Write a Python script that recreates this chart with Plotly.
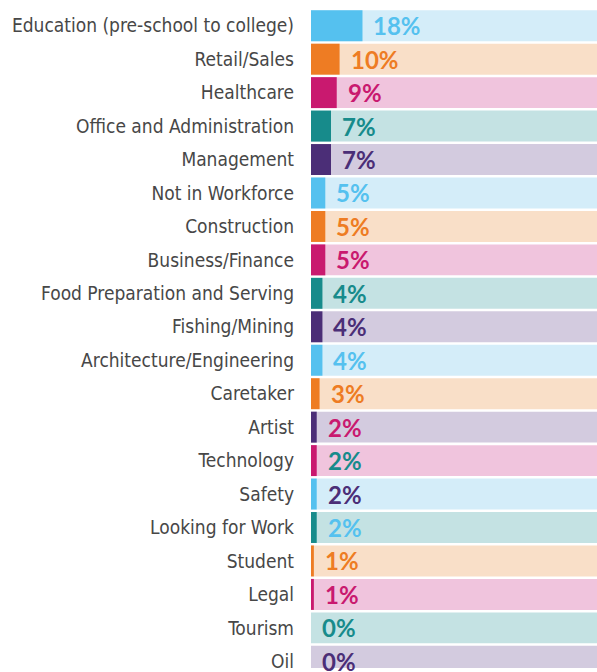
import plotly.graph_objects as go

categories = [
    "Education (pre-school to college)", "Retail/Sales", "Healthcare",
    "Office and Administration", "Management", "Not in Workforce",
    "Construction", "Business/Finance", "Food Preparation and Serving",
    "Fishing/Mining", "Architecture/Engineering", "Caretaker", "Artist",
    "Technology", "Safety", "Looking for Work", "Student", "Legal",
    "Tourism", "Oil",
]
values = [18, 10, 9, 7, 7, 5, 5, 5, 4, 4, 4, 3, 2, 2, 2, 2, 1, 1, 0, 0]
labels = [f"{v}%" for v in values]
full = [100] * len(categories)

BLUE, ORANGE, MAGENTA, TEAL, PURPLE = "#55C1EF", "#EE7C23", "#C9196F", "#178B8B", "#4B2E77"
BG = {BLUE: "#D4EDF9", ORANGE: "#F9DFC8", MAGENTA: "#F0C4DD", TEAL: "#C4E2E3", PURPLE: "#D3CBDF"}

bar_colors = [BLUE, ORANGE, MAGENTA, TEAL, PURPLE, BLUE, ORANGE, MAGENTA, TEAL, PURPLE,
              BLUE, ORANGE, PURPLE, MAGENTA, BLUE, TEAL, ORANGE, MAGENTA, TEAL, PURPLE]
text_colors = [BLUE, ORANGE, MAGENTA, TEAL, PURPLE, BLUE, ORANGE, MAGENTA, TEAL, PURPLE,
               BLUE, ORANGE, MAGENTA, TEAL, PURPLE, BLUE, ORANGE, MAGENTA, TEAL, PURPLE]
bg_colors = [BG[c] for c in bar_colors]

fig = go.Figure()
fig.add_trace(go.Bar(y=categories, x=full, orientation="h", marker=dict(color=bg_colors, line_width=0),
                     hoverinfo="skip", showlegend=False))
fig.add_trace(go.Bar(y=categories, x=values, orientation="h", marker=dict(color=bar_colors, line_width=0),
                     showlegend=False))

for cat, v, lab, tc in zip(categories, values, labels, text_colors):
    fig.add_annotation(x=v, y=cat, text=lab, showarrow=False, xanchor="left", xshift=9,
                       font=dict(family="Lato", size=24, color=tc, weight="bold"))

fig.update_layout(
    width=597, height=672,
    margin=dict(l=311, r=0, t=9, b=0),
    barmode="overlay", bargap=0.075,
    plot_bgcolor="white", paper_bgcolor="white",
    xaxis=dict(range=[0, 100], visible=False, fixedrange=True),
    yaxis=dict(categoryorder="array", categoryarray=categories, range=[19.2, -0.5],
               showgrid=False, zeroline=False, showline=False, ticks="", fixedrange=True,
               ticklabelstandoff=16,
               tickfont=dict(family="DejaVu Sans Condensed", size=19, color="#474747")),
)

fig.write_html(
    "out.html",
    config={"displayModeBar": False},
    post_script=(
        "document.documentElement.style.margin='0';"
        "document.body.style.margin='0';"
        "document.documentElement.style.overflow='hidden';"
        "document.body.style.overflow='hidden';"
    ),
)
